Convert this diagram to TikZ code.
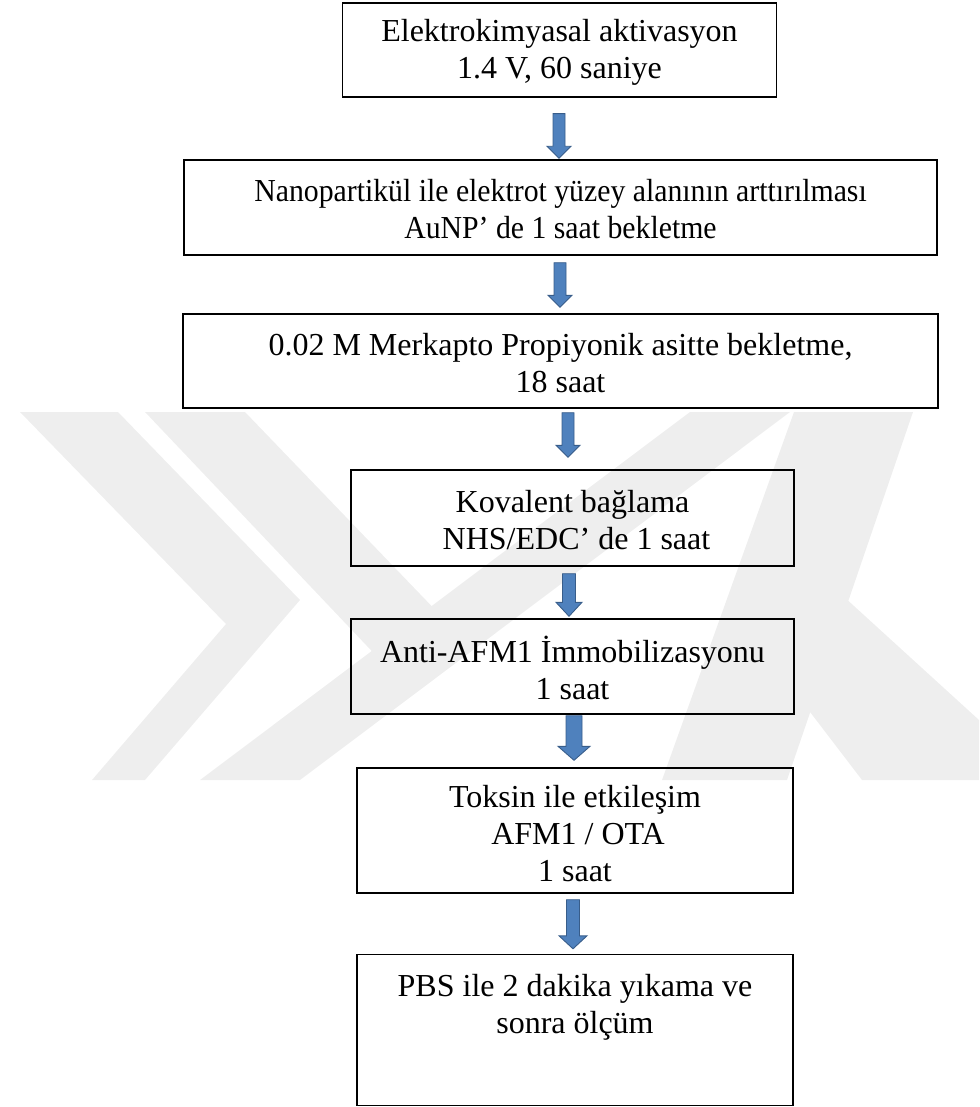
\documentclass[tikz,border=0pt]{standalone}
\usepackage{fontspec}
\setmainfont{Liberation Serif}
\usetikzlibrary{calc}
\definecolor{arrfill}{RGB}{79,129,189}
\definecolor{arrline}{RGB}{56,93,138}
\definecolor{wmark}{RGB}{238,238,238}
\tikzset{
  box/.style={draw=black, line width=1.4pt, inner sep=0pt},
  txt/.style={align=center, inner sep=0pt, font=\fontsize{32}{37}\selectfont},
  barrow/.style={fill=arrfill, draw=arrline, line width=0.9pt, line join=miter},
  wm/.style={fill=wmark, draw=none},
}
% #1 from node, #2 to node, #3 centre x, #4 gap below from-node, #5 gap above to-node,
% #6 half shaft width, #7 half head width, #8 head length
\newcommand{\blockarr}[8]{%
  \path[barrow] let \p1=(#1.south), \p2=(#2.north) in
    ({#3pt-#6pt},{\y1-#4pt}) -- ({#3pt+#6pt},{\y1-#4pt}) --
    ({#3pt+#6pt},{\y2+#5pt+#8pt}) -- ({#3pt+#7pt},{\y2+#5pt+#8pt}) --
    ({#3pt},{\y2+#5pt}) -- ({#3pt-#7pt},{\y2+#5pt+#8pt}) --
    ({#3pt-#6pt},{\y2+#5pt+#8pt}) -- cycle;}
\begin{document}
\begin{tikzpicture}[x=1pt,y=-1pt]
\useasboundingbox (0,0) rectangle (979,1107);
% faint watermark
\fill[wm] (20,412) -- (118,412) -- (300,600) -- (145,780) -- (92,780) -- (226,624) -- cycle;
\fill[wm] (145,412) -- (245,412) -- (445,620) -- (385,665) -- cycle;
\fill[wm] (200,780) -- (300,780) -- (790,412) -- (690,412) -- cycle;
\fill[wm] (794,412) -- (913,412) -- (787,780) -- (662,780) -- cycle;
\fill[wm] (755,640) -- (820,575) -- (979,720) -- (979,780) -- (862,780) -- cycle;
% boxes
\node[box, minimum width=434, minimum height=94] (b1) at (559.5,50) {};
\node[box, minimum width=753, minimum height=95] (b2) at (560.5,207.5) {};
\node[box, minimum width=755, minimum height=94] (b3) at (560.5,361) {};
\node[box, minimum width=443, minimum height=96] (b4) at (572.5,518) {};
\node[box, minimum width=443, minimum height=95] (b5) at (572.5,666.5) {};
\node[box, minimum width=436, minimum height=125] (b6) at (575,830.5) {};
\node[box, minimum width=436, minimum height=151] (b7) at (575,1030) {};
% texts
\node[txt] (t1) at (559.5,52) {Elektrokimyasal aktivasyon\\1.4 V, 60 saniye};
\node[txt, xscale=0.93] (t2) at (560.5,209) {Nanopartikül ile elektrot yüzey alanının arttırılması\\AuNP’ de 1 saat bekletme};
\node[txt] (t3) at (560.5,363) {0.02 M Merkapto Propiyonik asitte bekletme,\\18 saat};
\node[txt] (t4) at (572.5,520) {Kovalent bağlama\\\hspace*{8pt}NHS/EDC’ de 1 saat};
\node[txt] (t5) at (572.5,668) {Anti-AFM1 İmmobilizasyonu\\1 saat};
\node[txt] (t6) at (575,834) {Toksin ile etkileşim\\\hspace*{6pt}AFM1 / OTA\\1 saat};
\node[txt] (t7) at (575,1007) {PBS ile 2 dakika yıkama ve\\sonra ölçüm};
% arrows
\blockarr{b1}{b2}{559}{16}{1}{6}{12}{12}
\blockarr{b2}{b3}{560}{7}{6}{6}{12}{12}
\blockarr{b3}{b4}{568}{4}{12}{6}{12}{12}
\blockarr{b4}{b5}{569}{7}{2}{6.5}{13}{14}
\blockarr{b5}{b6}{574}{1}{7}{8}{16}{14}
\blockarr{b6}{b7}{573}{6}{5}{6.5}{14}{13}
\end{tikzpicture}
\end{document}
